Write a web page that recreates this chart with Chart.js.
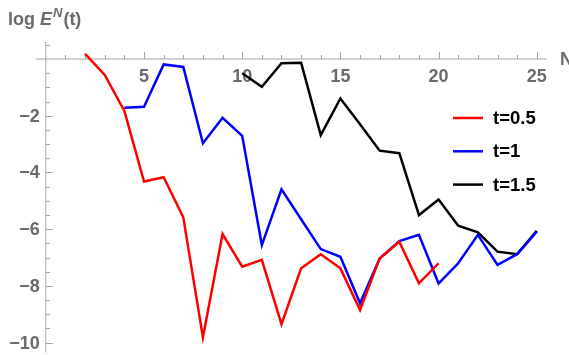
<!DOCTYPE html>
<html>
<head>
<meta charset="utf-8">
<script src="https://cdn.jsdelivr.net/npm/chart.js@4.4.0/dist/chart.umd.min.js"></script>
<style>
  body { margin: 0; background: #fff; }
  #wrap { width: 569px; height: 355px; }
</style>
</head>
<body>
<div id="wrap"><canvas id="myChart" width="569" height="355"></canvas></div>
<script>
// values
var nHalf = [2,3,4,5,6,7,8,9,10,11,12,13,14,15,16,17,18,19,20];
var eHalf = [0.18,-0.56,-1.83,-4.32,-4.17,-5.58,-9.81,-6.17,-7.32,-7.08,-9.35,-7.38,-6.88,-7.38,-8.85,-7.03,-6.44,-7.91,-7.20];
var nOne = [4,5,6,7,8,9,10,11,12,13,14,15,16,17,18,19,20,21,22,23,24,25];
var eOne = [-1.72,-1.68,-0.19,-0.28,-2.97,-2.07,-2.71,-6.56,-4.59,-5.65,-6.70,-6.97,-8.61,-7.03,-6.42,-6.20,-7.91,-7.20,-6.20,-7.26,-6.88,-6.09];
var nOneHalf = [10,11,12,13,14,15,16,17,18,19,20,21,22,23,24,25];
var eOneHalf = [-0.50,-0.98,-0.15,-0.13,-2.68,-1.39,-2.30,-3.23,-3.32,-5.50,-4.95,-5.88,-6.11,-6.79,-6.88,-6.06];
var seriesLabels = ['t=0.5', 't=1', 't=1.5'];
var xTicks = [5,10,15,20,25];
var yTicks = [-2,-4,-6,-8,-10];

var pts = function(xs, ys){
    return xs.map(function(x, i){ return {x: x, y: ys[i]}; });
};

var axisGray = '#a3a3a3';
var labelGray = '#6a6a6a';
var fam = '"Liberation Sans", Arial, sans-serif';
var bold = 'bold 18px ' + fam;

// mathematica style axes crossing at the origin, minor ticks included
var axesPlugin = {
    id: 'axes',
    beforeDatasetsDraw: function(chart){
        var c = chart.ctx, xs = chart.scales.x, ys = chart.scales.y;
        var x0 = xs.getPixelForValue(0), y0 = ys.getPixelForValue(0);
        c.save();
        c.strokeStyle = axisGray;
        c.lineWidth = 1;
        c.beginPath();
        c.moveTo(xs.left, y0); c.lineTo(xs.right, y0);
        c.moveTo(x0, ys.top); c.lineTo(x0, ys.bottom);
        for (var i = 1; i <= 25; i++) {
            var px = Math.round(xs.getPixelForValue(i)) + 0.5;
            var len = (i % 5 == 0) ? 7 : 4;
            c.moveTo(px, y0); c.lineTo(px, y0 - len);
        }
        for (var v = 0.5; v >= -10; v -= 0.5) {
            if (v == 0) continue;
            var py = Math.round(ys.getPixelForValue(v)) + 0.5;
            var l2 = (Math.abs(v) % 2 == 0) ? 7 : 4;
            c.moveTo(x0, py); c.lineTo(x0 + l2, py);
        }
        c.stroke();

        c.fillStyle = labelGray;
        c.font = bold;
        c.textAlign = 'center';
        c.textBaseline = 'middle';
        xTicks.forEach(function(t){
            c.fillText(String(t), xs.getPixelForValue(t), y0 + 18);
        });
        c.textAlign = 'right';
        yTicks.forEach(function(t){
            c.fillText('\u2212' + Math.abs(t), x0 - 6, ys.getPixelForValue(t) + 1);
        });
        // axis labels
        c.textAlign = 'left';
        c.fillText('N', 560, y0 + 1);
        c.textBaseline = 'alphabetic';
        var x = 8, base = 25;
        c.fillText('log ', x, base); x += c.measureText('log ').width;
        c.font = 'italic bold 18px ' + fam;
        c.fillText('E', x, base); x += c.measureText('E').width + 1;
        c.font = 'italic bold 13px ' + fam;
        c.fillText('N', x, base - 8); x += c.measureText('N').width + 1;
        c.font = bold;
        c.fillText('(t)', x, base);
        c.restore();
    },
    afterDraw: function(chart){
        var c = chart.ctx;
        c.save();
        c.font = 'bold 18.5px ' + fam;
        c.textAlign = 'left';
        c.textBaseline = 'middle';
        chart.data.datasets.forEach(function(ds, i){
            var y = 118 + i * 33.3;
            c.strokeStyle = ds.borderColor;
            c.lineWidth = 2.5;
            c.beginPath(); c.moveTo(453, y); c.lineTo(483, y); c.stroke();
            c.fillStyle = '#000';
            c.fillText(ds.label, 493, y + 1);
        });
        c.restore();
    }
};

var ctx = document.getElementById('myChart').getContext('2d');
var chart = new Chart(ctx, {
    type: 'line',
    data: {
        datasets: [
            { label: seriesLabels[0], data: pts(nHalf, eHalf), borderColor: '#ff0000' },
            { label: seriesLabels[1], data: pts(nOne, eOne), borderColor: '#0000ff' },
            { label: seriesLabels[2], data: pts(nOneHalf, eOneHalf), borderColor: '#000000' }
        ]
    },
    options: {
        responsive: false,
        animation: false,
        layout: { padding: { left: 36, right: 22.4, top: 42, bottom: 2.4 } },
        elements: {
            line: { borderWidth: 2.5, tension: 0, fill: false },
            point: { radius: 0, hoverRadius: 0 }
        },
        datasets: { line: { clip: false } },
        plugins: { legend: { display: false }, tooltip: { enabled: false } },
        scales: {
            x: { type: 'linear', min: -0.5, max: 25.5, display: false },
            y: { type: 'linear', min: -10.35, max: 0.6, display: false }
        }
    },
    plugins: [axesPlugin]
});
</script>
</body>
</html>
